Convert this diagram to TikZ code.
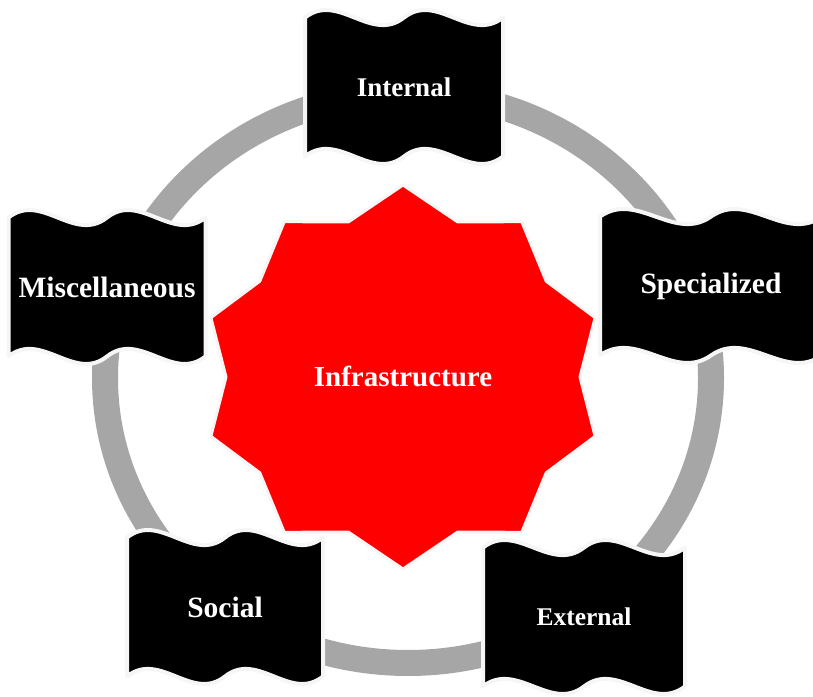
\documentclass[tikz,border=0pt]{standalone}
\usepackage{fontspec}
\setmainfont{Liberation Serif}

\definecolor{ringgray}{RGB}{166,166,166}
\definecolor{starred}{RGB}{255,0,0}
\definecolor{rimwhite}{RGB}{246,246,246}

\tikzset{
  banner/.style={fill=black, draw=rimwhite, line width=4pt, line join=round},
  starburst/.style={fill=starred, draw=rimwhite, line width=3pt, line join=round},
  caption/.style={text=white, font=\bfseries\fontsize{#1}{#1}\selectfont},
}

\begin{document}
\begin{tikzpicture}[x=1pt, y=1pt]
\useasboundingbox (0,0) rectangle (813,696);
% ring behind everything
\draw[ringgray, line width=26pt] (408,318) ellipse [x radius=303, y radius=285];
% ten-point star in the middle
\draw[starburst, shift={(403,319)}] (90:202 and 192)
  \foreach \k in {0,...,9} { -- (108+36*\k:177 and 163) -- (126+36*\k:202 and 192) } -- cycle;
\node[caption=29] (infra) at (403,320) {Infrastructure};
% wavy banners round the ring
\foreach \cx/\cy/\w/\sz/\nm/\txt in {404/609/198/27/internal/Internal,
    711/410/222/29.5/special/Specialized, 584/79/202/25.5/external/External,
    225/89/196/29.5/social/Social, 107/409/197/29.5/misc/Miscellaneous}
{
  \begin{scope}[shift={(\cx,\cy)}, xscale=\w, yscale=155]
    \draw[banner] (-0.5,0.448) .. controls (-1/3,0.616) and (-1/6,0.280) .. (0,0.448)
      .. controls (1/6,0.616) and (1/3,0.280) .. (0.5,0.448) -- (0.5,-0.448)
      .. controls (1/3,-0.616) and (1/6,-0.280) .. (0,-0.448)
      .. controls (-1/6,-0.616) and (-1/3,-0.280) .. (-0.5,-0.448) -- cycle;
  \end{scope}
  \node[caption=\sz] (\nm) at (\cx,\cy) {\txt};
}
\end{tikzpicture}
\end{document}
